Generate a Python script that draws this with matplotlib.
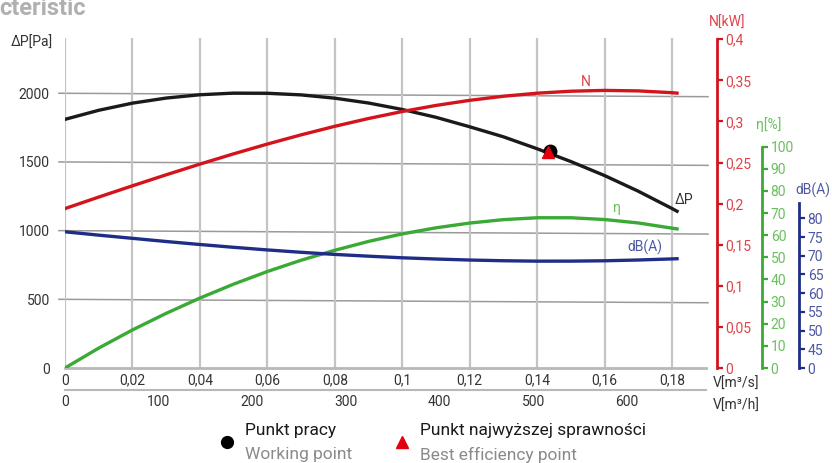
import numpy as np
import matplotlib
matplotlib.use('Agg')
import matplotlib.pyplot as plt

plt.rcParams['font.family'] = ['Roboto', 'DejaVu Sans']

# data
flow = [0, 0.01, 0.02, 0.03, 0.04, 0.05, 0.06, 0.07, 0.08, 0.09, 0.10,
        0.11, 0.12, 0.13, 0.14, 0.15, 0.16, 0.17, 0.18, 0.1815]
dp = [1810, 1876, 1928, 1965, 1989, 2001, 2000, 1988, 1964, 1929, 1882,
      1825, 1756, 1683, 1596, 1503, 1401, 1287, 1161, 1141]
power = [0.194, 0.2080, 0.2217, 0.2351, 0.2481, 0.2606, 0.2725, 0.2837, 0.2941, 0.3036, 0.3121,
         0.3195, 0.3257, 0.3307, 0.3344, 0.3368, 0.3378, 0.3372, 0.3350, 0.3345]
eff = [0, 9.0, 17.2, 24.7, 31.6, 37.9, 43.6, 48.7, 53.2, 57.2, 60.6,
       63.35, 65.5, 67.05, 67.9, 67.9, 67.1, 65.55, 63.2, 62.85]
noise = [76.4, 75.5, 74.65, 73.8, 73.0, 72.25, 71.55, 70.92, 70.35, 69.88, 69.45,
         69.12, 68.85, 68.66, 68.55, 68.56, 68.65, 68.86, 69.15, 69.2]

work_x, work_y = 0.1437, 1578
best_x, best_y = 0.1432, 1570

x_ticks = [0, 0.02, 0.04, 0.06, 0.08, 0.1, 0.12, 0.14, 0.16, 0.18]
h_ticks = [0, 100, 200, 300, 400, 500, 600]
dp_ticks = [0, 500, 1000, 1500, 2000]
n_ticks = [0, 0.05, 0.1, 0.15, 0.2, 0.25, 0.3, 0.35, 0.4]
eta_ticks = [0, 10, 20, 30, 40, 50, 60, 70, 80, 90, 100]
db_ticks = [40, 45, 50, 55, 60, 65, 70, 75, 80]
db_labels = ['0', '45', '50', '55', '60', '65', '70', '75', '80']

black = '#1a1a1a'
red = '#d3141c'
red_l = '#e0444b'
green = '#3aa935'
green_l = '#6abf5e'
blue = '#1f2d86'
blue_l = '#4d58a3'
txt = '#333333'

W, H = 832, 463


def comma(v):
    return ('%g' % v).replace('.', ',')


def fx(x):
    return x / W


def fy(y):
    return 1 - y / H


fig = plt.figure(figsize=(W / 100, H / 100), dpi=100)
ax = fig.add_axes([fx(65), fy(368), (705.7 - 65) / W, (368 - 38.3) / H])
ax.set_xlim(0, 0.19)
ax.set_ylim(0, 2400)

for s in ['top', 'right', 'left']:
    ax.spines[s].set_visible(False)
ax.spines['bottom'].set_color('#b8b8b8')
ax.spines['bottom'].set_linewidth(2)

ax.set_xticks(x_ticks)
ax.set_xticklabels([comma(v) for v in x_ticks])
ax.tick_params(axis='x', length=0, pad=4, labelsize=10, labelcolor=txt)
ax.xaxis.grid(True, color='#c4c4c4', linewidth=1.6)
ax.set_axisbelow(True)

ax.set_yticks(dp_ticks)
ax.tick_params(axis='y', length=0, pad=11, labelsize=10, labelcolor=txt)
# horizontal grid lines, drawn slightly slanted as in the source
for v in dp_ticks[1:]:
    ax.plot([-0.0018, 0.1907], [v, v - 25], color='#9a9a9a', lw=1.1,
            clip_on=False, zorder=0.5)

ax.plot(flow, dp, color=black, lw=2.4, zorder=3)
ax.plot([work_x], [work_y], 'o', color='black', ms=9, zorder=4)
ax.plot([best_x], [best_y], '^', color='#e3000f', ms=9, zorder=5)

# second flow axis in m3/h
sec = ax.secondary_xaxis('bottom', functions=(lambda v: v * 3600, lambda v: v / 3600))
sec.spines['bottom'].set_position(('outward', 15.8))
sec.spines['bottom'].set_color('#b8b8b8')
sec.spines['bottom'].set_linewidth(1.5)
sec.set_xticks(h_ticks)
sec.tick_params(axis='x', length=0, pad=4, labelsize=10, labelcolor=txt)


def side_axis(pos, color, color_l, top, bounds, ticks, labels):
    a = ax.twinx()
    for s in ['top', 'left', 'bottom']:
        a.spines[s].set_visible(False)
    a.spines['right'].set_position(('axes', pos))
    a.spines['right'].set_color(color)
    a.spines['right'].set_linewidth(2)
    a.spines['right'].set_bounds(*bounds)
    a.set_ylim(bounds[0], top)
    a.set_yticks(ticks)
    a.set_yticklabels(labels)
    a.tick_params(axis='y', color=color, labelcolor=color_l, length=4, width=1.6,
                  pad=2, labelsize=10)
    return a


axN = side_axis(1.0172, red, red_l, 0.4012, (0, 0.4), n_ticks, [comma(v) for v in n_ticks])
axE = side_axis(1.0884, green, green_l, 149.0, (0, 100), eta_ticks, [str(v) for v in eta_ticks])
axD = side_axis(1.1461, blue, blue_l, 128.1, (40, 84), db_ticks, db_labels)

axN.plot(flow, power, color=red, lw=2.4)
axE.plot(flow, eff, color=green, lw=2.4)
axD.plot(flow, noise, color=blue, lw=2.4)

# curve names
fig.text(fx(586), fy(82), 'N', color=red_l, fontsize=10, ha='center', va='center')
fig.text(fx(684), fy(200), 'ΔP', color=txt, fontsize=10, ha='center', va='center')
fig.text(fx(617), fy(208), 'η', color=green_l, fontsize=10, ha='center', va='center')
fig.text(fx(645), fy(247), 'dB(A)', color=blue_l, fontsize=10, ha='center', va='center')

# axis titles
fig.text(fx(53), fy(43), 'ΔP[Pa]', color=txt, fontsize=10, ha='right', va='center')
fig.text(fx(727), fy(23), 'N[kW]', color=red_l, fontsize=10, ha='center', va='center')
fig.text(fx(769), fy(125), 'η[%]', color=green_l, fontsize=10, ha='center', va='center')
fig.text(fx(813), fy(190), 'dB(A)', color=blue_l, fontsize=10, ha='center', va='center')
fig.text(fx(713), fy(384), 'V[m³/s]', color=txt, fontsize=10, ha='left', va='center')
fig.text(fx(713), fy(406), 'V[m³/h]', color=txt, fontsize=10, ha='left', va='center')

# cut-off title
fig.text(fx(-1), fy(15), 'cteristic', color='#b0b0b0', fontsize=17, fontweight='bold',
         ha='left', va='baseline')

# legend
fig.lines.append(plt.Line2D([fx(227)], [fy(442)], marker='o', color='black', ms=8.5,
                            transform=fig.transFigure))
fig.lines.append(plt.Line2D([fx(402)], [fy(442)], marker='^', color='#e3000f', ms=9,
                            transform=fig.transFigure))
fig.text(fx(245), fy(431), 'Punkt pracy', color=black, fontsize=12.5, ha='left', va='center')
fig.text(fx(245), fy(455), 'Working point', color='#8a8a8a', fontsize=12.5, ha='left', va='center')
fig.text(fx(420), fy(431), 'Punkt najwyższej sprawności', color=black, fontsize=12.5,
         ha='left', va='center')
fig.text(fx(420), fy(455), 'Best efficiency point', color='#8a8a8a', fontsize=12.5,
         ha='left', va='center')

fig.savefig('out.png', dpi=100)
